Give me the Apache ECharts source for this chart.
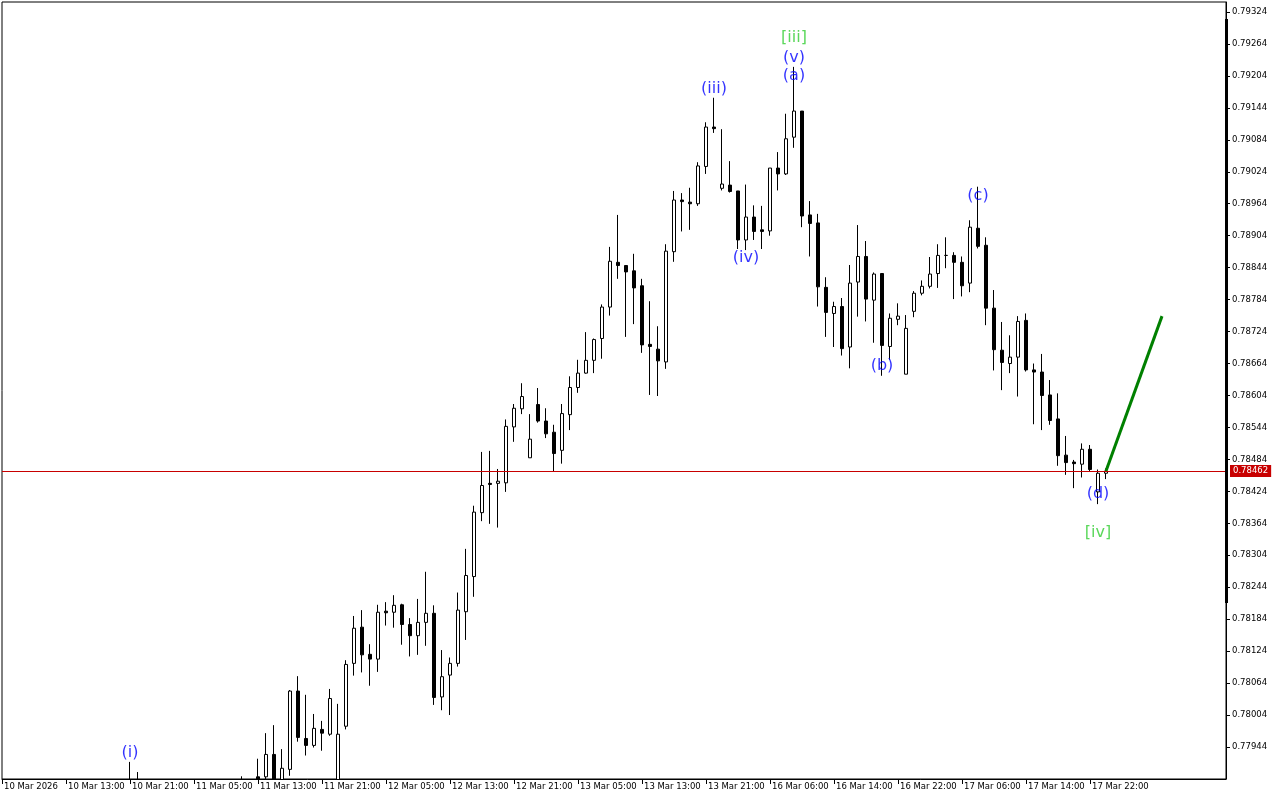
<!DOCTYPE html>
<html><head><meta charset="utf-8">
<script src="https://cdn.jsdelivr.net/npm/echarts@6/dist/echarts.min.js"></script>
<style>html,body{margin:0;padding:0;background:#fff}#c{width:1280px;height:800px}</style>
</head><body><div id="c"></div>
<script>
// ---- hourly sessions (day label, first hour, last hour) ----
const sessions = [['10 Mar',5,23],['11 Mar',0,23],['12 Mar',0,23],['13 Mar',0,23],['16 Mar',1,23],['17 Mar',0,23],['18 Mar',0,15]];
// ---- x tick labels, one every 8 bars ----
const tickLabels = ['10 Mar 2026','10 Mar 13:00','10 Mar 21:00','11 Mar 05:00','11 Mar 13:00','11 Mar 21:00','12 Mar 05:00','12 Mar 13:00','12 Mar 21:00','13 Mar 05:00','13 Mar 13:00','13 Mar 21:00','16 Mar 06:00','16 Mar 14:00','16 Mar 22:00','17 Mar 06:00','17 Mar 14:00','17 Mar 22:00'];
// ---- y tick labels ----
const yTicks = [0.77944,0.78004,0.78064,0.78124,0.78184,0.78244,0.78304,0.78364,0.78424,0.78484,0.78544,0.78604,0.78664,0.78724,0.78784,0.78844,0.78904,0.78964,0.79024,0.79084,0.79144,0.79204,0.79264,0.79324];
const currentPrice = 0.78462;
// ---- OHLC (x1e-5), null = bar not visible ----
const N0 = null;
const opens = [N0,N0,N0,N0,N0,N0,N0,N0,N0,N0,N0,N0,N0,N0,N0,N0,
77850,77870,N0,N0,N0,N0,N0,N0,N0,N0,N0,N0,N0,N0,77860,N0,
77888,77888,77930,77860,77902,78049,77960,77947,77977,77968,77860,77983,78101,78169,78118,78109,78199,78197,78211,78174,78153,78178,78195,78038,78079,78101,78198,78264,
78384,78439,78439,78440,78545,78579,78487,78587,78556,78535,78501,78568,78619,78646,78670,78711,78770,78854,78848,78838,78810,78700,78691,78667,78874,78971,78967,78964,79034,79108,
78993,78999,78988,78896,78939,78915,78913,79031,79020,79089,79138,78943,78928,78807,78758,78771,78695,78817,78865,78783,78833,78696,78747,78644,78762,78796,78809,78833,78867,78867,
78854,78815,78918,78886,78768,78689,78664,78676,78745,78652,78648,78605,78560,78492,78479,78475,78503,78423,78458];
const highs = [N0,N0,N0,N0,N0,N0,N0,N0,N0,N0,N0,N0,N0,N0,N0,N0,
77916,77897,N0,N0,N0,N0,N0,N0,N0,N0,N0,N0,N0,N0,77889,N0,
77922,77970,77985,77940,78051,78077,78042,78006,77993,78053,78025,78107,78190,78201,78137,78211,78216,78229,78213,78186,78222,78273,78210,78126,78112,78234,78316,78397,
78498,78500,78466,78559,78588,78627,78569,78618,78580,78549,78588,78640,78671,78723,78711,78775,78883,78943,78848,78870,78823,78781,78734,78888,78988,78984,78994,79042,79117,79163,
79104,79044,78988,79000,78961,78960,79031,79061,79133,79221,79138,78969,78945,78826,78780,78787,78849,78924,78894,78835,78833,78758,78777,78755,78800,78820,78864,78888,78901,78873,
78865,78933,78996,78901,78802,78742,78717,78753,78758,78664,78682,78633,78608,78528,78483,78514,78511,78465,78467];
const lows = [N0,N0,N0,N0,N0,N0,N0,N0,N0,N0,N0,N0,N0,N0,N0,N0,
77820,77830,N0,N0,N0,N0,N0,N0,N0,N0,N0,N0,N0,N0,77840,N0,
77860,77870,77850,77850,77890,77954,77928,77943,77937,77965,77850,77977,78078,78084,78059,78085,78172,78168,78136,78114,78117,78134,78023,78013,78004,78095,78145,78226,
78368,78363,78356,78423,78517,78569,78487,78553,78524,78462,78476,78539,78609,78645,78646,78673,78754,78823,78714,78738,78684,78605,78603,78654,78855,78912,78915,78960,79020,79097,
78989,78985,78879,78877,78896,78879,78904,78989,79018,79069,78920,78865,78771,78714,78695,78679,78655,78752,78743,78703,78641,78671,78736,78644,78751,78792,78805,78806,78843,78785,
78790,78798,78880,78736,78651,78614,78646,78602,78649,78550,78539,78549,78472,78455,78430,78450,78461,78400,78447];
const closes = [N0,N0,N0,N0,N0,N0,N0,N0,N0,N0,N0,N0,N0,N0,N0,N0,
77870,77850,N0,N0,N0,N0,N0,N0,N0,N0,N0,N0,N0,N0,77870,N0,
77878,77930,77860,77904,78049,77962,77947,77979,77970,78035,77968,78099,78167,78117,78109,78197,78196,78210,78174,78153,78178,78195,78037,78076,78101,78201,78266,78385,
78435,78437,78443,78546,78580,78602,78522,78556,78532,78495,78570,78619,78646,78670,78709,78770,78856,78848,78836,78806,78699,78696,78669,78875,78971,78968,78964,79035,79108,79105,
79001,78987,78896,78939,78912,78912,79031,79020,79086,79138,78941,78927,78808,78760,78771,78692,78815,78865,78785,78832,78698,78749,78753,78730,78796,78809,78832,78867,78867,78854,
78810,78920,78884,78768,78690,78666,78676,78743,78652,78648,78604,78557,78491,78478,78476,78503,78465,78458,78462];
// ---- projected move (bar index, price) ----
const projection = [[138, 0.78462], [145, 0.78753]];
// ---- Elliott wave labels ----
const waveLabels = [
  {text:'(i)',   bar:16,  price:0.779327, color:'#0000ff'},
  {text:'(iii)', bar:89,  price:0.791794, color:'#0000ff'},
  {text:'(iv)',  bar:93,  price:0.788621, color:'#0000ff'},
  {text:'[iii]', bar:99,  price:0.792752, color:'#32cd32'},
  {text:'(v)',   bar:99,  price:0.792376, color:'#0000ff'},
  {text:'(a)',   bar:99,  price:0.792038, color:'#0000ff'},
  {text:'(b)',   bar:110, price:0.786594, color:'#0000ff'},
  {text:'(c)',   bar:122, price:0.789785, color:'#0000ff'},
  {text:'(d)',   bar:137, price:0.784190, color:'#0000ff'},
  {text:'[iv]',  bar:137, price:0.783458, color:'#32cd32'}
];

const categories = [];
sessions.forEach(s => { for (let h = s[1]; h <= s[2]; h++) categories.push(s[0] + ' ' + String(h).padStart(2,'0') + ':00'); });
const candleData = categories.map((c, i) => {
  if (i >= opens.length || opens[i] == null) return '-';
  return [opens[i]/1e5, closes[i]/1e5, lows[i]/1e5, highs[i]/1e5];
});
const lastTick = (tickLabels.length - 1) * 8;
const font = 'DejaVu Sans';

const chart = echarts.init(document.getElementById('c'));
chart.setOption({
  animation: false,
  backgroundColor: '#ffffff',
  grid: {left: 2, right: 54, top: 2, bottom: 21, show: true, borderColor: '#000', borderWidth: 1, backgroundColor: 'transparent'},
  xAxis: {
    type: 'category', data: categories, boundaryGap: false, z: 100,
    axisLine: {lineStyle: {color: '#000', width: 1}},
    axisTick: {length: 5, lineStyle: {color: '#000'}, interval: (i) => i % 8 === 0 && i <= lastTick},
    axisLabel: {interval: (i) => i % 8 === 0 && i <= lastTick, align: 'left', margin: 3, padding: [0,0,0,2],
      fontFamily: font, fontSize: 8.5, color: '#000',
      formatter: (v, i) => (i % 8 === 0 && i <= lastTick) ? tickLabels[i/8] : ''},
    splitLine: {show: false}
  },
  yAxis: {
    type: 'value', position: 'right', scale: true, min: 0.778839, max: 0.793428, z: 100,
    axisLine: {show: true, lineStyle: {color: '#000', width: 1}},
    axisTick: {show: true, length: 4, lineStyle: {color: '#000'}, customValues: yTicks},
    axisLabel: {customValues: yTicks, margin: 6, fontFamily: font, fontSize: 8.5, color: '#000', formatter: v => v.toFixed(5)},
    splitLine: {show: false}
  },
  series: [
    {
      type: 'candlestick', data: candleData, barWidth: 4, clip: true,
      itemStyle: {color: '#ffffff', color0: '#000000', borderColor: '#000000', borderColor0: '#000000', borderWidth: 1}
    },
    {
      type: 'line', data: projection, symbol: 'none', clip: false, z: 3,
      lineStyle: {color: '#008000', width: 3},
      markLine: {
        silent: true, symbol: 'none', animation: false, precision: 5,
        data: [{yAxis: currentPrice}],
        lineStyle: {color: '#c80000', width: 1, type: 'solid'},
        label: {position: 'end', formatter: currentPrice.toFixed(5), backgroundColor: '#c80000', color: '#fff',
          fontFamily: font, fontSize: 8.5, padding: [2, 3, 1, 3], distance: 4}
      }
    },
    {
      type: 'scatter', symbolSize: 1, itemStyle: {color: 'rgba(0,0,0,0)'}, z: 4,
      data: waveLabels.map(w => ({value: [w.bar, w.price], name: w.text,
        label: {show: true, position: 'inside', formatter: w.text, color: w.color, fontFamily: font, fontSize: 16}}))
    }
  ],
  graphic: [
    {type: 'rect', z: 50, shape: {x: 0, y: 779.5, width: 1226, height: 21}, style: {fill: '#ffffff'}},
    {type: 'rect', z: 50, shape: {x: 1225, y: 19, width: 3, height: 584}, style: {fill: '#000'}}
  ]
});
</script></body></html>
